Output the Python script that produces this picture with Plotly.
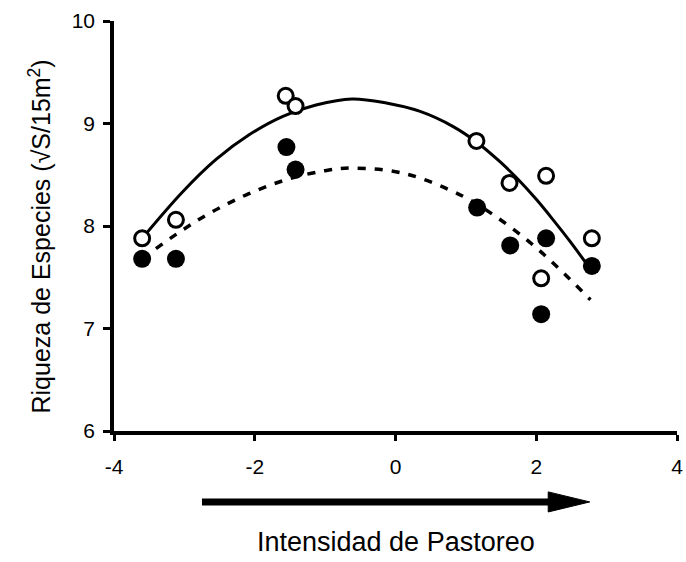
import plotly.graph_objects as go

# Data
x_open = [-3.60, -3.12, -1.56, -1.42, 1.15, 1.62, 2.14, 2.79, 2.07]
y_open = [7.88, 8.06, 9.27, 9.17, 8.83, 8.42, 8.49, 7.88, 7.49]
x_filled = [-3.60, -3.12, -1.55, -1.42, 1.16, 1.63, 2.14, 2.79, 2.07]
y_filled = [7.68, 7.68, 8.77, 8.55, 8.18, 7.81, 7.88, 7.61, 7.14]

# Fitted curves
x_fit_solid = [-3.60, -3.03, -2.55, -2.08, -1.60, -1.13, -0.62, -0.13, 0.34, 0.82, 1.15, 1.48, 1.72, 2.00, 2.24, 2.48, 2.79]
y_fit_solid = [7.88, 8.33, 8.65, 8.89, 9.07, 9.18, 9.24, 9.20, 9.12, 8.97, 8.82, 8.63, 8.47, 8.26, 8.06, 7.85, 7.56]
x_fit_dash = [-3.60, -3.05, -2.60, -2.10, -1.56, -1.00, -0.60, 0.14, 0.96, 1.41, 1.91, 2.33, 2.77]
y_fit_dash = [7.68, 7.95, 8.14, 8.31, 8.45, 8.54, 8.565, 8.51, 8.29, 8.10, 7.84, 7.58, 7.28]

x_ticks = [-4, -2, 0, 2, 4]
y_ticks = [6, 7, 8, 9, 10]

FONT = "Liberation Sans, Arial, sans-serif"

fig = go.Figure()
fig.add_trace(go.Scatter(x=x_fit_solid, y=y_fit_solid, mode="lines",
                         line=dict(color="black", width=3, shape="spline", smoothing=1.0),
                         showlegend=False, hoverinfo="skip"))
fig.add_trace(go.Scatter(x=x_fit_dash, y=y_fit_dash, mode="lines",
                         line=dict(color="black", width=3.5, dash="8px,9px", shape="spline", smoothing=1.0),
                         showlegend=False, hoverinfo="skip"))
fig.add_trace(go.Scatter(x=x_filled, y=y_filled, mode="markers",
                         marker=dict(symbol="circle", size=18, color="black",
                                     line=dict(color="black", width=0)),
                         showlegend=False))
fig.add_trace(go.Scatter(x=x_open, y=y_open, mode="markers",
                         marker=dict(symbol="circle", size=15, color="white",
                                     line=dict(color="black", width=3)),
                         showlegend=False))

# Arrow under the x axis (grazing intensity)
arrow_y = -0.173
fig.add_shape(type="line", xref="x", yref="paper", x0=-2.75, x1=2.25, y0=arrow_y, y1=arrow_y,
              line=dict(color="black", width=7))
fig.add_shape(type="path", xref="x", yref="paper",
              path=f"M 2.17 {arrow_y + 0.0245} L 2.76 {arrow_y} L 2.17 {arrow_y - 0.0245} Z",
              fillcolor="black", line=dict(color="black", width=1))

fig.add_annotation(text="Riqueza de Especies (√S/15m<sup>2</sup>)", textangle=-90,
                   xref="paper", yref="paper", x=-0.131, y=0.475,
                   xanchor="center", yanchor="middle", showarrow=False,
                   font=dict(family=FONT, size=25, color="black"))
fig.add_annotation(text="Intensidad de Pastoreo",
                   xref="paper", yref="paper", x=0.5, y=-0.27,
                   xanchor="center", yanchor="middle", showarrow=False,
                   font=dict(family=FONT, size=27, color="black"))

fig.update_xaxes(range=[-4, 4], tickvals=x_ticks, ticktext=[str(v) for v in x_ticks],
                 showline=True, linewidth=3.5, linecolor="black", mirror=False,
                 ticks="outside", ticklen=6, tickwidth=3, tickcolor="black",
                 showgrid=False, zeroline=False, ticklabelstandoff=8,
                 tickfont=dict(family=FONT, size=21, color="black"))
fig.update_yaxes(range=[6, 10], tickvals=y_ticks, ticktext=[str(v) for v in y_ticks],
                 showline=True, linewidth=3.5, linecolor="black", mirror=False,
                 ticks="outside", ticklen=7, tickwidth=3, tickcolor="black",
                 showgrid=False, zeroline=False, ticklabelstandoff=4,
                 tickfont=dict(family=FONT, size=21, color="black"))

fig.update_layout(width=686, height=562,
                  margin=dict(l=114, r=9, t=21, b=131, autoexpand=False),
                  plot_bgcolor="white", paper_bgcolor="white",
                  showlegend=False, font=dict(family=FONT, color="black"))

fig.write_html("out.html")
